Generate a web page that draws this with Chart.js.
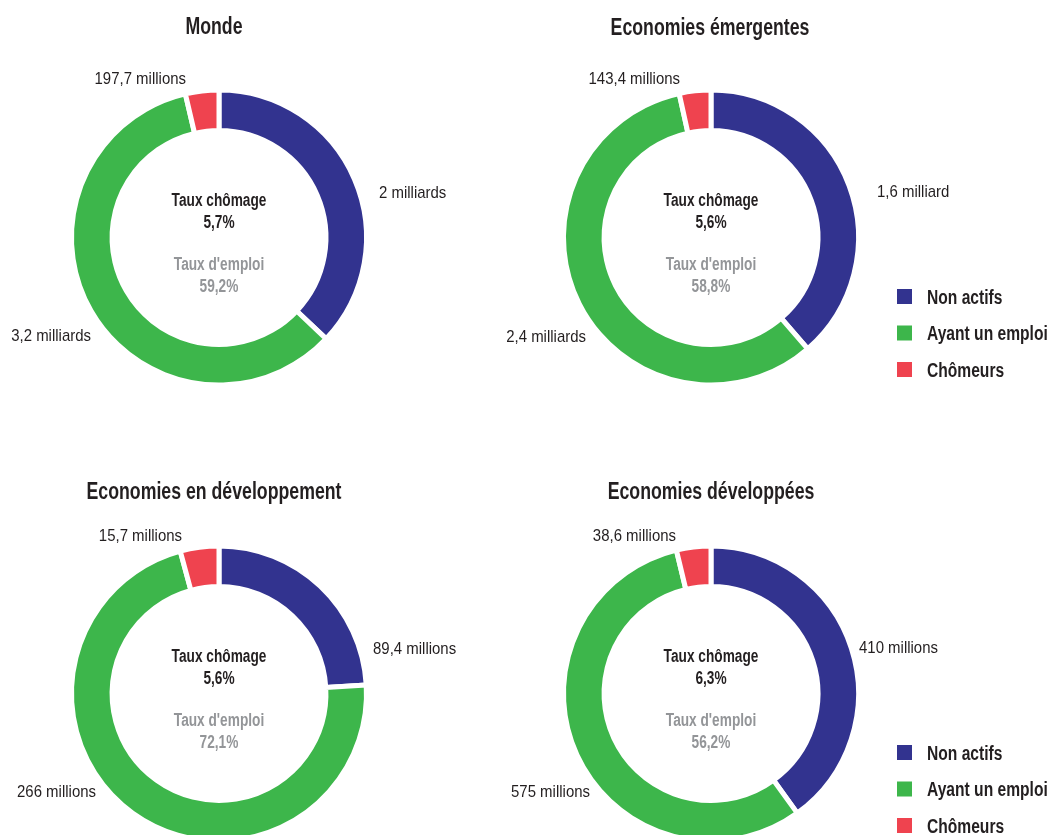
<!DOCTYPE html>
<html lang="fr">
<head>
<meta charset="utf-8">
<title>Population active</title>
<script src="https://cdn.jsdelivr.net/npm/chart.js@4.4.1/dist/chart.umd.min.js"></script>
<style>
html, body { margin: 0; padding: 0; background: #fff; overflow: hidden; width: 1050px; height: 835px; }
canvas { position: absolute; }
</style>
</head>
<body>
<canvas id="c0" width="492" height="418" style="left:0;top:0"></canvas>
<canvas id="c1" width="558" height="418" style="left:492px;top:0"></canvas>
<canvas id="c2" width="492" height="418" style="left:0;top:456px"></canvas>
<canvas id="c3" width="558" height="418" style="left:492px;top:456px"></canvas>
<script>
// donnees (en millions de personnes)
var regions = ['Monde', 'Economies émergentes', 'Economies en développement', 'Economies développées'];
var categories = ['Non actifs', 'Ayant un emploi', 'Chômeurs'];
var nonActifs = [2000, 1600, 89.4, 410];
var avecEmploi = [3200, 2400, 266, 575];
var chomeurs = [197.7, 143.4, 15.7, 38.6];
var tauxChomage = [5.7, 5.6, 5.6, 6.3];
var tauxEmploi = [59.2, 58.8, 72.1, 56.2];

var couleurs = ['#32338f', '#3db64b', '#ef434f'];
var FONT = '"Liberation Sans", Arial, sans-serif';

// placement des etiquettes autour de chaque anneau : [dx, dy] depuis le centre
var posEtiquettes = [
    [[160, -39.5], [-128, 103.5], [-33, -153.5]],
    [[166, -40.5], [-125, 104.5], [-31, -153.5]],
    [[154, -39.5], [-123, 103.5], [-37, -153]],
    [[148, -40.5], [-121, 103], [-35, -152.5]]
];
var titreY = [34, 35, 43, 43];
var titreDx = [-5, -1, -5, 0];
var avecLegende = [false, true, false, true];

function virgule(v) {
    return String(v).replace('.', ',');
}

function formatMillions(v) {
    if (v >= 1000) {
        var n = Math.round(v / 100) / 10;
        return virgule(n) + (n < 2 ? ' milliard' : ' milliards');
    }
    return virgule(v) + ' millions';
}

// texte resserre horizontalement (police etroite)
function texte(ctx, s, x, y, align, sx) {
    ctx.save();
    ctx.translate(x, y);
    ctx.scale(sx, 1);
    ctx.textAlign = align;
    ctx.fillText(s, 0, 0);
    ctx.restore();
}

var textesPlugin = {
    id: 'textes',
    afterDraw: function (chart) {
        var o = chart.options.plugins.textes;
        var ctx = chart.ctx;
        var arc = chart.getDatasetMeta(0).data[0];
        var cx = arc.x, cy = arc.y;
        var data = chart.data.datasets[0].data;

        ctx.save();
        ctx.textBaseline = 'alphabetic';

        // titre
        ctx.fillStyle = '#231f20';
        ctx.font = 'bold 23px ' + FONT;
        texte(ctx, o.titre, cx + o.titreDx, o.titreY, 'center', 0.77);

        // centre de l'anneau
        ctx.font = 'bold 18px ' + FONT;
        texte(ctx, 'Taux chômage', cx, cy - 31.5, 'center', 0.76);
        texte(ctx, virgule(o.chomage) + '%', cx, cy - 9.5, 'center', 0.76);
        ctx.fillStyle = '#939598';
        texte(ctx, "Taux d'emploi", cx, cy + 32.5, 'center', 0.76);
        texte(ctx, virgule(o.emploi) + '%', cx, cy + 54.5, 'center', 0.76);

        // valeurs autour
        ctx.fillStyle = '#231f20';
        ctx.font = '17px ' + FONT;
        for (var i = 0; i < data.length; i++) {
            var p = o.positions[i];
            texte(ctx, formatMillions(data[i]), cx + p[0], cy + p[1], i === 0 ? 'left' : 'right', 0.88);
        }

        // legende
        if (o.legende) {
            ctx.font = 'bold 20px ' + FONT;
            var labels = chart.data.labels;
            for (var k = 0; k < labels.length; k++) {
                var y = 296 + k * 36.5;
                ctx.fillStyle = couleurs[k];
                ctx.fillRect(405, y - 7, 15, 15);
                ctx.fillStyle = '#231f20';
                texte(ctx, labels[k], 435, y + 7.5, 'left', 0.78);
            }
        }
        ctx.restore();
    }
};

var charts = [];
for (var i = 0; i < regions.length; i++) {
    var canvas = document.getElementById('c' + i);
    var W = canvas.width, H = canvas.height;
    charts.push(new Chart(canvas, {
        type: 'doughnut',
        data: {
            labels: categories,
            datasets: [{
                data: [nonActifs[i], avecEmploi[i], chomeurs[i]],
                backgroundColor: couleurs,
                borderColor: '#ffffff',
                borderWidth: 5
            }]
        },
        options: {
            responsive: false,
            animation: false,
            events: [],
            cutout: '72.5%',
            layout: {
                padding: { left: 69, top: 87.5, right: W - 369, bottom: H - 387.5 }
            },
            plugins: {
                legend: { display: false },
                tooltip: { enabled: false },
                textes: {
                    titre: regions[i],
                    titreY: titreY[i],
                    titreDx: titreDx[i],
                    chomage: tauxChomage[i],
                    emploi: tauxEmploi[i],
                    positions: posEtiquettes[i],
                    legende: avecLegende[i]
                }
            }
        },
        plugins: [textesPlugin]
    }));
}
</script>
</body>
</html>
